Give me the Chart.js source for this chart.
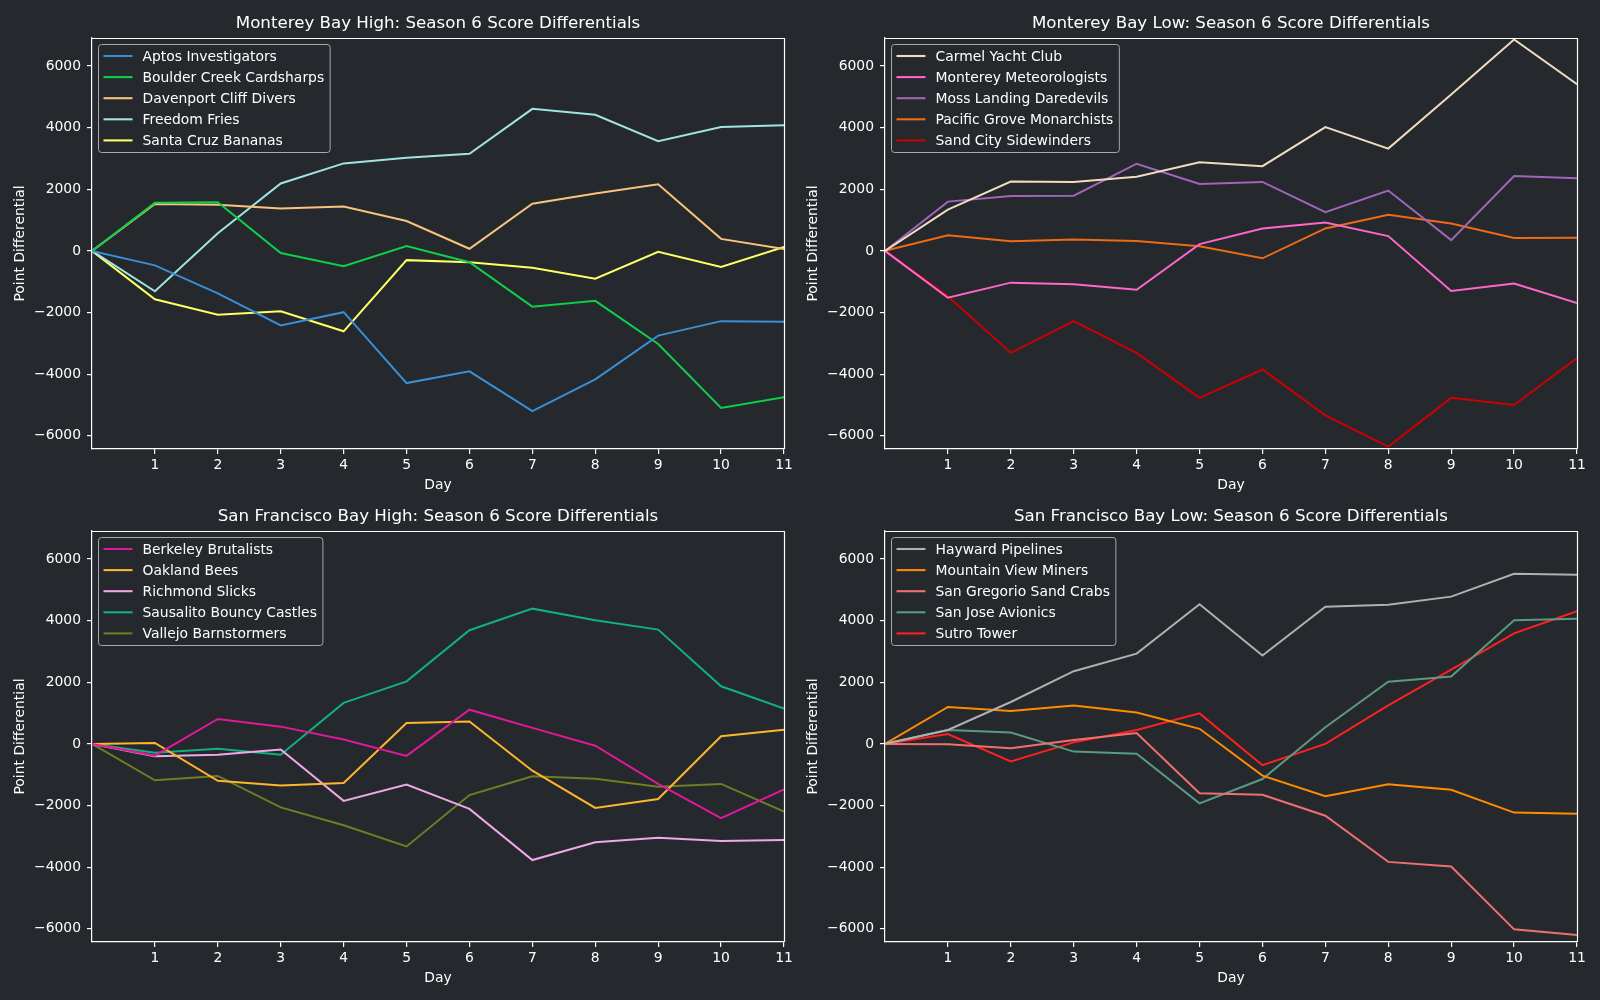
<!DOCTYPE html>
<html>
<head>
<meta charset="utf-8">
<script src="https://cdn.jsdelivr.net/npm/chart.js@4.4.1/dist/chart.umd.min.js"></script>
<style>
  body { margin: 0; background: #25282d; width: 1600px; height: 1000px; overflow: hidden; position: relative; }
  .panel { position: absolute; width: 800px; height: 500px; }
</style>
</head>
<body>
<div class="panel" style="left:0;top:0"><canvas id="mbHigh"></canvas></div>
<div class="panel" style="left:793px;top:0"><canvas id="mbLow"></canvas></div>
<div class="panel" style="left:0;top:493px"><canvas id="sfHigh"></canvas></div>
<div class="panel" style="left:793px;top:493px"><canvas id="sfLow"></canvas></div>
<script>
// shared axes
const days = [0, 1, 2, 3, 4, 5, 6, 7, 8, 9, 10, 11];
const xTicks = [1, 2, 3, 4, 5, 6, 7, 8, 9, 10, 11];
const yTicks = [-6000, -4000, -2000, 0, 2000, 4000, 6000];

// Monterey Bay High
const mbHighTeams = ["Aptos Investigators", "Boulder Creek Cardsharps", "Davenport Cliff Divers", "Freedom Fries", "Santa Cruz Bananas"];
const mbHighColors = ["#3a8ed4", "#0fcf4a", "#f8c37c", "#a0e4e0", "#ffff66"];
const mbHighValues = [
  [0, -470, -1380, -2420, -1990, -4290, -3910, -5200, -4170, -2750, -2280, -2300],
  [0, 1560, 1580, -70, -500, 160, -370, -1810, -1620, -3020, -5100, -4750],
  [0, 1520, 1500, 1380, 1440, 970, 70, 1530, 1860, 2160, 390, 60],
  [0, -1310, 570, 2190, 2840, 3020, 3150, 4610, 4420, 3560, 4020, 4080],
  [0, -1570, -2070, -1960, -2610, -300, -370, -550, -900, -30, -520, 130]
];

// Monterey Bay Low
const mbLowTeams = ["Carmel Yacht Club", "Monterey Meteorologists", "Moss Landing Daredevils", "Pacific Grove Monarchists", "Sand City Sidewinders"];
const mbLowColors = ["#efdcc3", "#ff66cc", "#a066b8", "#f06a14", "#cc0000"];
const mbLowValues = [
  [0, 1340, 2250, 2240, 2410, 2880, 2750, 4020, 3320, 5080, 6860, 5410],
  [0, -1520, -1030, -1080, -1260, 220, 730, 920, 480, -1300, -1060, -1690],
  [0, 1600, 1780, 1790, 2830, 2170, 2240, 1260, 1960, 350, 2430, 2360],
  [0, 510, 310, 370, 320, 150, -240, 730, 1170, 890, 420, 430],
  [0, -1470, -3310, -2280, -3310, -4770, -3850, -5340, -6350, -4770, -5000, -3480]
];

// San Francisco Bay High
const sfHighTeams = ["Berkeley Brutalists", "Oakland Bees", "Richmond Slicks", "Sausalito Bouncy Castles", "Vallejo Barnstormers"];
const sfHighColors = ["#e0189a", "#ffb52e", "#f0a8e8", "#10b080", "#6d7f22"];
const sfHighValues = [
  [0, -380, 810, 560, 140, -390, 1110, 520, -60, -1300, -2410, -1480],
  [0, 30, -1200, -1350, -1270, 680, 730, -870, -2080, -1790, 250, 460],
  [0, -400, -350, -180, -1850, -1320, -2110, -3770, -3190, -3050, -3150, -3120],
  [0, -290, -160, -350, 1330, 2030, 3690, 4390, 4010, 3710, 1870, 1150],
  [0, -1180, -1040, -2060, -2640, -3330, -1660, -1050, -1130, -1390, -1300, -2200]
];

// San Francisco Bay Low
const sfLowTeams = ["Hayward Pipelines", "Mountain View Miners", "San Gregorio Sand Crabs", "San Jose Avionics", "Sutro Tower"];
const sfLowColors = ["#b0b0b0", "#ff8c00", "#f07070", "#5a9a80", "#ff2020"];
const sfLowValues = [
  [0, 450, 1360, 2360, 2930, 4530, 2870, 4450, 4520, 4780, 5520, 5490],
  [0, 1200, 1070, 1250, 1020, 490, -1030, -1700, -1310, -1490, -2230, -2270],
  [0, -10, -140, 130, 350, -1600, -1650, -2330, -3830, -3980, -6020, -6200],
  [0, 450, 370, -250, -320, -1930, -1140, 540, 2020, 2190, 4010, 4060],
  [0, 320, -570, 50, 450, 990, -690, 0, 1250, 2410, 3590, 4310]
];

Chart.defaults.font.family = "DejaVu Sans";
Chart.defaults.font.size = 13.9;
Chart.defaults.color = "#ffffff";

// top/right spines and a matplotlib-style legend box
const framePlugin = {
  id: "frame",
  afterDatasetsDraw(chart) {
    const ctx = chart.ctx;
    const a = chart.chartArea;
    ctx.save();
    ctx.strokeStyle = "#ffffff";
    ctx.lineWidth = 1.2;
    ctx.beginPath();
    ctx.moveTo(a.left, a.top + 0.5);
    ctx.lineTo(a.right + 0.5, a.top + 0.5);
    ctx.lineTo(a.right + 0.5, a.bottom);
    ctx.stroke();

    // legend
    ctx.font = "13.9px 'DejaVu Sans'";
    const sets = chart.data.datasets;
    let maxW = 0;
    sets.forEach((d) => { maxW = Math.max(maxW, ctx.measureText(d.label).width); });
    const bx = a.left + 6.5, by = a.top + 6.5;
    const bw = 44 + maxW + 6, bh = 108;
    ctx.beginPath();
    ctx.roundRect(bx, by, bw, bh, 3);
    ctx.fillStyle = "rgba(37,40,45,0.8)";
    ctx.fill();
    ctx.strokeStyle = "#a6a8ab";
    ctx.lineWidth = 1;
    ctx.stroke();
    ctx.textBaseline = "middle";
    sets.forEach((d, i) => {
      const y = by + 11.5 + i * 21.1;
      ctx.strokeStyle = d.borderColor;
      ctx.lineWidth = 2.1;
      ctx.beginPath();
      ctx.moveTo(bx + 5, y);
      ctx.lineTo(bx + 34, y);
      ctx.stroke();
      ctx.fillStyle = "#ffffff";
      ctx.fillText(d.label, bx + 44, y + 1);
    });
    ctx.restore();
  },
};

function fmt(v) {
  return v < 0 ? "\u2212" + Math.abs(v) : String(v);
}

function makeChart(id, title, teams, colors, values) {
  const ctx = document.getElementById(id).getContext("2d");
  new Chart(ctx, {
    type: "line",
    data: {
      datasets: teams.map((name, i) => ({
        label: name,
        data: days.map((d, j) => ({ x: d, y: values[i][j] })),
        borderColor: colors[i],
        backgroundColor: colors[i],
        borderWidth: 2,
        pointRadius: 0,
        tension: 0,
        fill: false,
      })),
    },
    options: {
      responsive: true,
      maintainAspectRatio: false,
      animation: false,
      layout: { padding: { left: 0, right: 16, top: 0, bottom: 0 } },
      scales: {
        x: {
          type: "linear",
          min: 0,
          max: 11,
          afterBuildTicks: (s) => { s.ticks = xTicks.map((v) => ({ value: v })); },
          afterFit: (s) => { s.height = 51; },
          ticks: { autoSkip: false, maxRotation: 0, padding: 3, color: "#ffffff", callback: (v) => String(v) },
          grid: { drawOnChartArea: false, drawTicks: true, tickLength: 5, color: "#ffffff", lineWidth: 1.2 },
          border: { display: true, color: "#ffffff", width: 1.2 },
          title: { display: true, text: "Day", color: "#ffffff", padding: { top: 0, bottom: 6 } },
        },
        y: {
          min: -6430,
          max: 6910,
          afterBuildTicks: (s) => { s.ticks = yTicks.map((v) => ({ value: v })); },
          afterFit: (s) => { s.width = 92; },
          ticks: { padding: 6, color: "#ffffff", callback: (v) => fmt(v) },
          grid: { drawOnChartArea: false, drawTicks: true, tickLength: 5, color: "#ffffff", lineWidth: 1.2 },
          border: { display: true, color: "#ffffff", width: 1.2 },
          title: { display: true, text: "Point Differential", color: "#ffffff", padding: { top: 12, bottom: 0 } },
        },
      },
      plugins: {
        legend: { display: false },
        tooltip: { enabled: false },
        title: {
          display: true,
          text: title,
          fullSize: false,
          color: "#ffffff",
          font: { size: 16.67, weight: "normal" },
          padding: { top: 14, bottom: 4 },
        },
      },
    },
    plugins: [framePlugin],
  });
}

makeChart("mbHigh", "Monterey Bay High: Season 6 Score Differentials", mbHighTeams, mbHighColors, mbHighValues);
makeChart("mbLow", "Monterey Bay Low: Season 6 Score Differentials", mbLowTeams, mbLowColors, mbLowValues);
makeChart("sfHigh", "San Francisco Bay High: Season 6 Score Differentials", sfHighTeams, sfHighColors, sfHighValues);
makeChart("sfLow", "San Francisco Bay Low: Season 6 Score Differentials", sfLowTeams, sfLowColors, sfLowValues);
</script>
</body>
</html>
